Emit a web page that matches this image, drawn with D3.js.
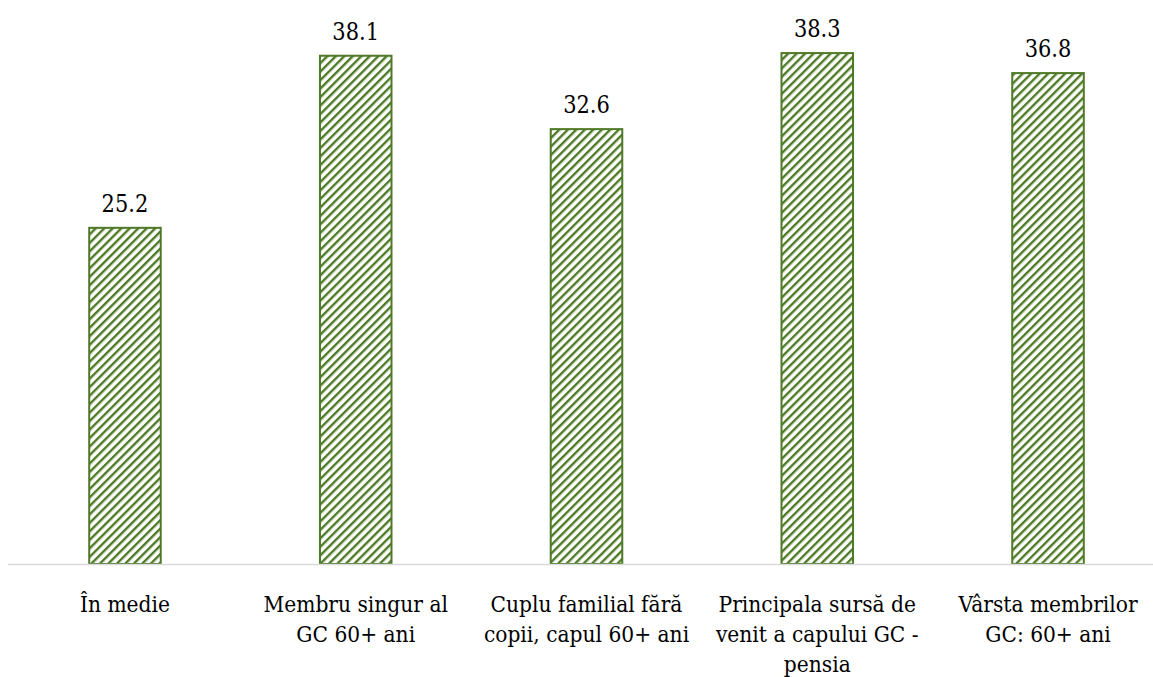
<!DOCTYPE html>
<html><head><meta charset="utf-8">
<script src="https://cdn.jsdelivr.net/npm/d3@7"></script>
<style>
html,body{margin:0;padding:0;background:#fff;}
svg{display:block;}
</style>
</head><body>
<svg id="chart" width="1153" height="677"></svg>
<script>
const categories = ["În medie", "Membru singur al GC 60+ ani", "Cuplu familial fără copii, capul 60+ ani", "Principala sursă de venit a capului GC - pensia", "Vârsta membrilor GC: 60+ ani"];
const categoryLines = [["În medie"], ["Membru singur al", "GC 60+ ani"], ["Cuplu familial fără", "copii, capul 60+ ani"], ["Principala sursă de", "venit a capului GC -", "pensia"], ["Vârsta membrilor", "GC: 60+ ani"]];
const values = [25.2, 38.1, 32.6, 38.3, 36.8];
const valueLabels = ["25.2", "38.1", "32.6", "38.3", "36.8"];

const svg = d3.select("#chart");
const W = 1153, H = 677;
const green = "#4e7a27";
const baseY = 564;
const fontFam = "DejaVu Serif";

const x = d3.scaleBand().domain(categories).range([9.6, 1163.4]).paddingInner(0.69).paddingOuter(0.345);
const y = d3.scaleLinear().domain([0, 40]).range([baseY, 30.4]);

const defs = svg.append("defs");
const pat = defs.append("pattern").attr("id", "hatch").attr("patternUnits", "userSpaceOnUse")
  .attr("width", 6).attr("height", 6).attr("patternTransform", "rotate(45)");
pat.append("rect").attr("width", 6).attr("height", 6).attr("fill", "#fff");
pat.append("rect").attr("x", 0).attr("y", 0).attr("width", 2.4).attr("height", 6).attr("fill", green);

svg.append("g").selectAll("rect").data(values).join("rect")
  .attr("x", (d, i) => x(categories[i]))
  .attr("y", d => y(d))
  .attr("width", x.bandwidth())
  .attr("height", d => baseY - y(d))
  .attr("fill", "url(#hatch)")
  .attr("stroke", green).attr("stroke-width", 2);

svg.append("line").attr("x1", 8).attr("x2", W).attr("y1", baseY + 0.5).attr("y2", baseY + 0.5)
  .attr("stroke", "#d9d9d9").attr("stroke-width", 1.5);

svg.append("g").selectAll("text").data(values).join("text")
  .attr("transform", (d, i) => `translate(${x(categories[i]) + x.bandwidth() / 2},${y(d) - 16}) scale(0.84,1)`)
  .attr("text-anchor", "middle")
  .style("font-family", fontFam)
  .attr("font-size", 25).attr("fill", "#000")
  .text((d, i) => valueLabels[i]);

const lg = svg.append("g").selectAll("text").data(categoryLines).join("text")
  .attr("transform", (lines, i) => `translate(${x(categories[i]) + x.bandwidth() / 2},0) scale(0.88,1)`)
  .attr("text-anchor", "middle")
  .style("font-family", fontFam)
  .attr("font-size", 23).attr("fill", "#000");
lg.each(function(lines) {
  d3.select(this).selectAll("tspan").data(lines).join("tspan")
    .attr("x", 0).attr("y", (l, j) => 612 + j * 30).text(l => l);
});
</script>
</body></html>
